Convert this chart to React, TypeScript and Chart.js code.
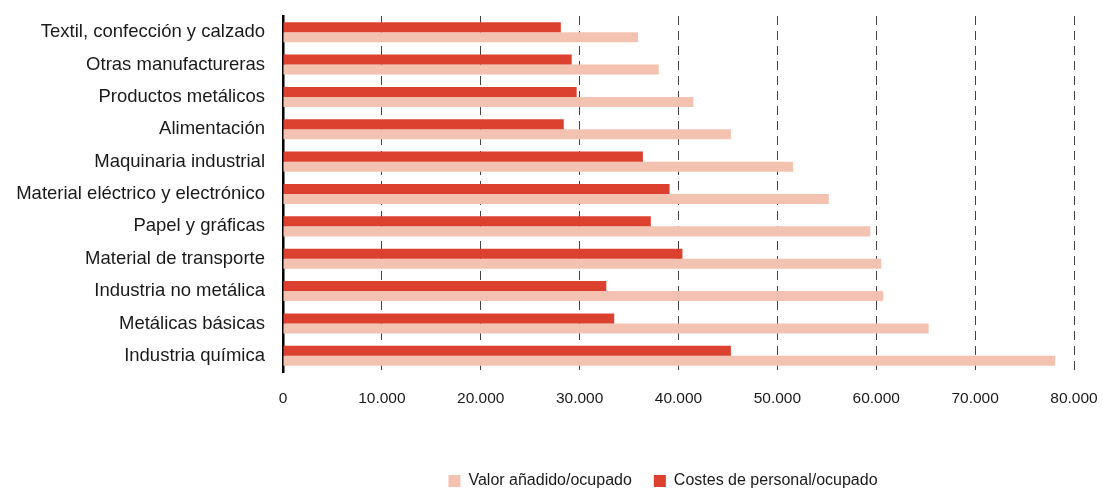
import React, { useEffect, useRef } from "react";
import { Chart, registerables } from "chart.js";

Chart.register(...registerables);

const categories = [
  "Textil, confección y calzado",
  "Otras manufactureras",
  "Productos metálicos",
  "Alimentación",
  "Maquinaria industrial",
  "Material eléctrico y electrónico",
  "Papel y gráficas",
  "Material de transporte",
  "Industria no metálica",
  "Metálicas básicas",
  "Industria química",
];

const valorAnadido = [35900, 38000, 41500, 45300, 51600, 55200, 59400, 60500, 60700, 65300, 78100];
const costesPersonal = [28100, 29200, 29700, 28400, 36400, 39100, 37200, 40400, 32700, 33500, 45300];

const xTickLabels = ["0", "10.000", "20.000", "30.000", "40.000", "50.000", "60.000", "70.000", "80.000"];

const seriesNames = ["Costes de personal/ocupado", "Valor añadido/ocupado"];

const FONT = "'Liberation Sans', Arial, Helvetica, sans-serif";
const TEXT = "#1a1a1a";

const legendShift = {
  id: "legendShift",
  afterLayout(chart: any) {
    const lg = chart.legend;
    if (!lg) return;
    const dx = 663 - (lg.left + lg.right) / 2;
    lg.left += dx;
    lg.right += dx;
    lg.top += 9;
    lg.bottom += 9;
  },
};

export default function App() {
  const ref = useRef<HTMLCanvasElement | null>(null);

  useEffect(() => {
    if (!ref.current) return;
    const chart = new Chart(ref.current, {
      type: "bar",
      data: {
        labels: categories,
        datasets: [
          {
            label: seriesNames[0],
            data: costesPersonal,
            backgroundColor: "#DC4130",
            borderWidth: 0,
          },
          {
            label: seriesNames[1],
            data: valorAnadido,
            backgroundColor: "#F4C2B0",
            borderWidth: 0,
          },
        ],
      },
      options: {
        indexAxis: "y",
        animation: false,
        responsive: true,
        maintainAspectRatio: false,
        layout: { padding: { top: 16, right: 29, left: 0, bottom: 0 } },
        datasets: { bar: { categoryPercentage: 0.62, barPercentage: 1 } },
        scales: {
          x: {
            min: 0,
            max: 80000,
            ticks: {
              stepSize: 10000,
              callback: (_v: any, i: number) => xTickLabels[i],
              color: TEXT,
              font: { size: 15.5, family: FONT },
              padding: 0,
              maxRotation: 0,
            },
            grid: {
              color: "#444",
              lineWidth: 1,
              drawTicks: true,
              tickLength: 17,
              tickColor: "rgba(0,0,0,0)",
            },
            border: { display: false, dash: [9, 6] },
            afterFit: (s: any) => {
              s.height = 70;
            },
          },
          y: {
            ticks: {
              color: TEXT,
              font: { size: 18.5, family: FONT },
              padding: 0,
              autoSkip: false,
            },
            grid: {
              display: true,
              drawOnChartArea: false,
              drawTicks: true,
              tickLength: 18,
              color: "rgba(0,0,0,0)",
              tickColor: "rgba(0,0,0,0)",
            },
            border: { display: true, color: "#000", width: 2.5 },
            afterFit: (s: any) => {
              s.width = 283;
            },
          },
        },
        plugins: {
          legend: {
            position: "bottom",
            reverse: true,
            labels: {
              boxWidth: 12,
              boxHeight: 12,
              padding: 22,
              color: TEXT,
              font: { size: 16, family: FONT },
            },
          },
          tooltip: { enabled: false },
        },
      },
      plugins: [legendShift],
    } as any);
    return () => chart.destroy();
  }, []);

  return (
    <div style={{ position: "fixed", left: 0, top: 0, width: 1103, height: 490, background: "#fff" }}>
      <canvas ref={ref} />
    </div>
  );
}
